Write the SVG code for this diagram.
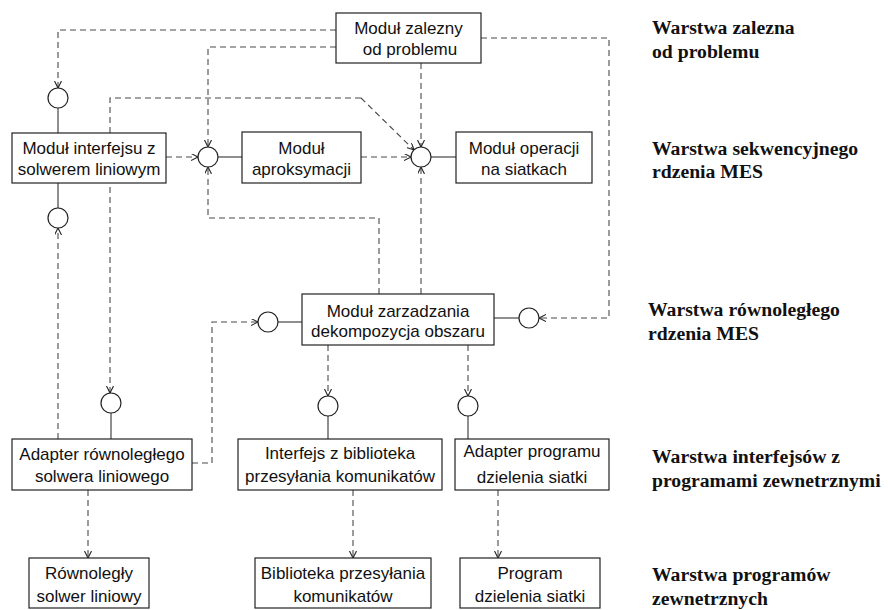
<svg xmlns="http://www.w3.org/2000/svg" width="888" height="610" viewBox="0 0 888 610">
<style>
.box{fill:#fff;stroke:#222;stroke-width:1.2}
.t{font-family:"Liberation Sans",Arial,sans-serif;font-size:17px;fill:#111;text-anchor:middle}
.lbl{font-family:"Liberation Serif","Times New Roman",serif;font-size:19.7px;font-weight:bold;fill:#111}
.da{fill:none;stroke:#4a4a4a;stroke-width:1.1;stroke-dasharray:6,4;marker-end:url(#arr)}
.s{fill:none;stroke:#333;stroke-width:1.1}
.c{fill:#fff;stroke:#222;stroke-width:1.2}
</style>
<defs>
<marker id="arr" markerUnits="userSpaceOnUse" markerWidth="9" markerHeight="8" refX="7" refY="3.5" orient="auto" viewBox="0 0 9 8">
<path d="M0,0 L7,3.5 L0,7" fill="none" stroke="#222" stroke-width="1.1"/>
</marker>
</defs>
<g id="connectors">
<path class="da" d="M336,30 H58 V88"/>
<path class="da" d="M336,47 H208 V147"/>
<path class="da" d="M166,157 H198"/>
<path class="da" d="M379,294 V218 H208 V167"/>
<path class="da" d="M421,63 V147"/>
<path class="da" d="M361,98 H110 V393"/>
<path class="da" d="M361,98 L414,150"/>
<path class="da" d="M361,157 H411"/>
<path class="da" d="M421,294 V167"/>
<path class="da" d="M481,38 H609 V318 H539"/>
<path class="da" d="M192,463 H212 V322 H258"/>
<path class="da" d="M58,439 V228"/>
<path class="da" d="M328,345 V396"/>
<path class="da" d="M468,345 V396"/>
<path class="da" d="M88,490 V558"/>
<path class="da" d="M353,490 V558"/>
<path class="da" d="M498,490 V558"/>
<path class="s" d="M58,108 V133"/>
<path class="s" d="M218,157 H242"/>
<path class="s" d="M431,157 H456"/>
<path class="s" d="M58,183 V208"/>
<path class="s" d="M278,322 H302"/>
<path class="s" d="M494,318 H519"/>
<path class="s" d="M111,413 V439"/>
<path class="s" d="M328,416 V439"/>
<path class="s" d="M468,416 V439"/>
</g>
<g id="iface1"><circle class="c" cx="58" cy="98" r="10"/></g>
<g id="iface2"><circle class="c" cx="208" cy="157" r="10"/></g>
<g id="iface3"><circle class="c" cx="421" cy="157" r="10"/></g>
<g id="iface4"><circle class="c" cx="58" cy="218" r="10"/></g>
<g id="iface5"><circle class="c" cx="268" cy="322" r="10"/></g>
<g id="iface6"><circle class="c" cx="529" cy="318" r="10"/></g>
<g id="iface7"><circle class="c" cx="111" cy="403" r="10"/></g>
<g id="iface8"><circle class="c" cx="328" cy="406" r="10"/></g>
<g id="iface9"><circle class="c" cx="468" cy="406" r="10"/></g>
<g id="zalezny"><rect class="box" x="336" y="13" width="145" height="50"/><text class="t" x="408.5" y="34">Moduł zalezny</text><text class="t" x="410" y="55">od problemu</text></g>
<g id="interfejsu"><rect class="box" x="12" y="133" width="154" height="50"/><text class="t" x="89" y="154">Moduł interfejsu z</text><text class="t" x="89" y="175">solwerem liniowym</text></g>
<g id="aproksymacji"><rect class="box" x="242" y="132" width="119" height="51"/><text class="t" x="301.5" y="154">Moduł</text><text class="t" x="301.5" y="175">aproksymacji</text></g>
<g id="operacji"><rect class="box" x="456" y="132" width="136" height="51"/><text class="t" x="524" y="154">Moduł operacji</text><text class="t" x="524" y="175">na siatkach</text></g>
<g id="zarzadzania"><rect class="box" x="302" y="294" width="192" height="51"/><text class="t" x="398" y="317">Moduł zarzadzania</text><text class="t" x="398" y="337">dekompozycja obszaru</text></g>
<g id="adapterRown"><rect class="box" x="12" y="439" width="180" height="51"/><text class="t" x="102" y="460">Adapter równoległego</text><text class="t" x="102" y="482">solwera liniowego</text></g>
<g id="interfejsBibl"><rect class="box" x="238" y="439" width="204" height="51"/><text class="t" x="340" y="459">Interfejs z biblioteka</text><text class="t" x="340" y="482">przesyłania komunikatów</text></g>
<g id="adapterProg"><rect class="box" x="455" y="439" width="154" height="51"/><text class="t" x="532" y="457">Adapter programu</text><text class="t" x="532" y="483">dzielenia siatki</text></g>
<g id="rownolegly"><rect class="box" x="29" y="558" width="120" height="50"/><text class="t" x="89" y="579">Równoległy</text><text class="t" x="89" y="602">solwer liniowy</text></g>
<g id="biblioteka"><rect class="box" x="255" y="558" width="176" height="50"/><text class="t" x="343" y="579">Biblioteka przesyłania</text><text class="t" x="343" y="602">komunikatów</text></g>
<g id="program"><rect class="box" x="460" y="558" width="140" height="50"/><text class="t" x="530" y="579">Program</text><text class="t" x="530" y="602">dzielenia siatki</text></g>
<g id="labels">
<text class="lbl" x="652" y="34">Warstwa zalezna</text>
<text class="lbl" x="652" y="58">od problemu</text>
<text class="lbl" x="652" y="155">Warstwa sekwencyjnego</text>
<text class="lbl" x="652" y="178">rdzenia MES</text>
<text class="lbl" x="648" y="316">Warstwa równoległego</text>
<text class="lbl" x="648" y="340">rdzenia MES</text>
<text class="lbl" x="652" y="463">Warstwa interfejsów z</text>
<text class="lbl" x="652" y="487">programami zewnetrznymi</text>
<text class="lbl" x="652" y="581">Warstwa programów</text>
<text class="lbl" x="652" y="605">zewnetrznych</text>
</g>
</svg>
